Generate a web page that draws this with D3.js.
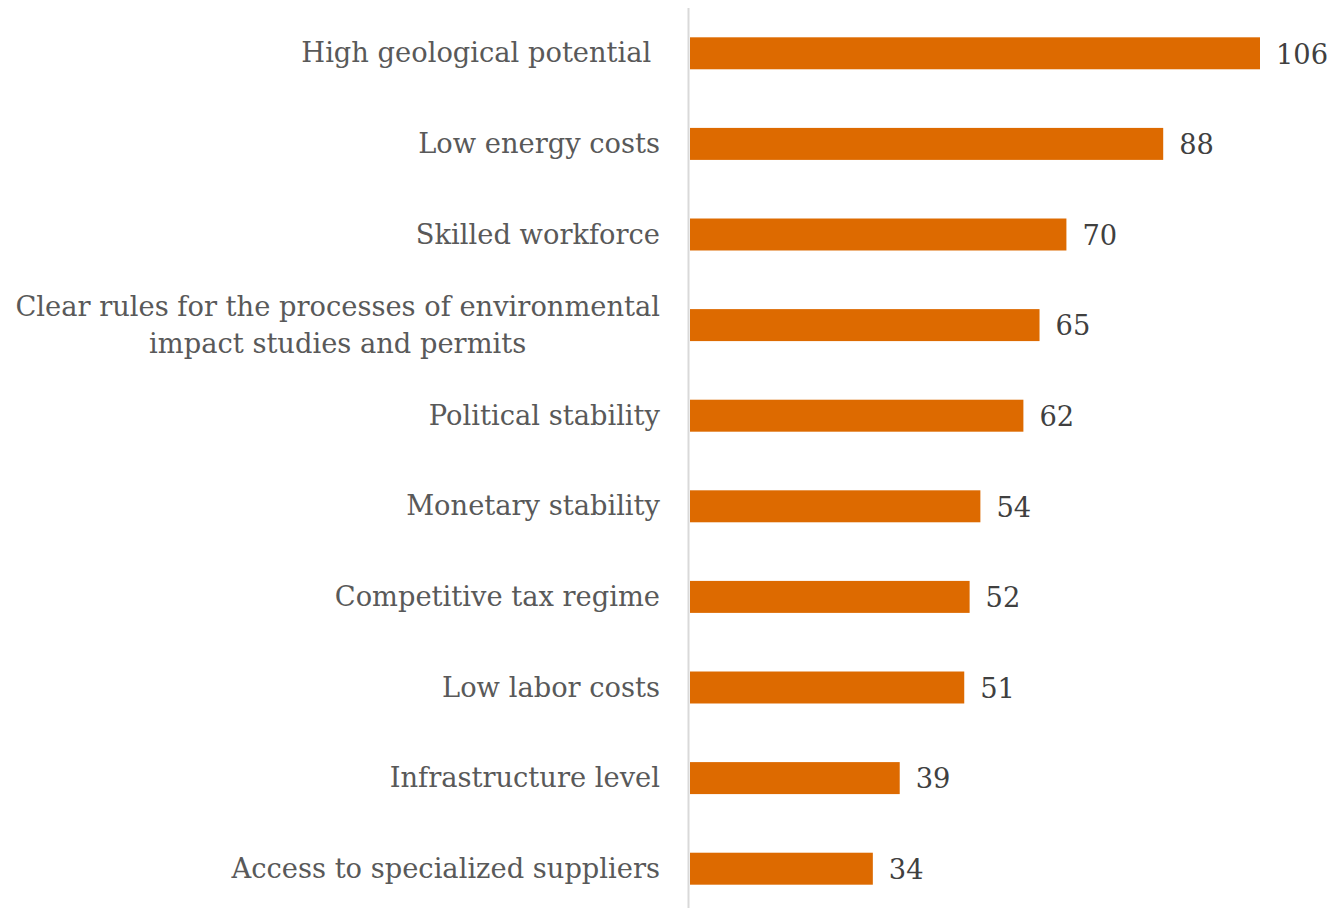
<!DOCTYPE html>
<html>
<head>
<meta charset="utf-8">
<script src="https://cdn.jsdelivr.net/npm/d3@7"></script>
<style>
  html, body { margin: 0; padding: 0; background: #fff; }
  svg { display: block; }
</style>
</head>
<body>
<svg id="chart" width="1332" height="908"></svg>
<script>
// Factors, top to bottom
const categories = [
  "High geological potential ",
  "Low energy costs",
  "Skilled workforce",
  "Clear rules for the processes of environmental\nimpact studies and permits",
  "Political stability",
  "Monetary stability",
  "Competitive tax regime",
  "Low labor costs",
  "Infrastructure level",
  "Access to specialized suppliers"
];
const counts = [106, 88, 70, 65, 62, 54, 52, 51, 39, 34];

const width = 1332, height = 908;
const margin = { top: 8, right: 72, bottom: 0, left: 690 };
const fontFamily = "'DejaVu Serif', 'Liberation Serif', serif";
const fontSize = 27.3;

const svg = d3.select("#chart");

const x = d3.scaleLinear()
  .domain([0, 106])
  .range([margin.left, 1260]);

const y = d3.scaleBand()
  .domain(categories)
  .range([margin.top, margin.top + 906])
  .paddingInner(0.647)
  .paddingOuter(0.3235);

// vertical category axis line
svg.append("line")
  .attr("x1", margin.left - 1.5).attr("x2", margin.left - 1.5)
  .attr("y1", 8).attr("y2", height)
  .attr("stroke", "#d9d9d9")
  .attr("stroke-width", 2);

// bars
svg.append("g")
  .selectAll("rect")
  .data(categories)
  .join("rect")
  .attr("x", x(0))
  .attr("y", d => y(d))
  .attr("width", (d, i) => x(counts[i]) - x(0))
  .attr("height", y.bandwidth())
  .attr("fill", "#dd6a00");

// value labels
svg.append("g")
  .selectAll("text")
  .data(categories)
  .join("text")
  .attr("x", (d, i) => x(counts[i]) + 16)
  .attr("y", d => y(d) + y.bandwidth() / 2)
  .attr("dy", "0.38em")
  .attr("font-family", fontFamily)
  .attr("font-size", fontSize)
  .attr("fill", "#404040")
  .text((d, i) => counts[i]);

// category labels, multi-line ones centred as a block ending at the right edge
const labelRight = 660;
const lineHeight = 37;
const labels = svg.append("g")
  .selectAll("text")
  .data(categories)
  .join("text")
  .attr("font-family", fontFamily)
  .attr("font-size", fontSize)
  .attr("fill", "#595959")
  .style("white-space", "pre");

labels.each(function(d) {
  const lines = d.split("\n");
  const t = d3.select(this);
  const cy = y(d) + y.bandwidth() / 2;
  const first = cy - (lines.length - 1) * lineHeight / 2;
  const spans = lines.map((ln, k) =>
    t.append("tspan")
      .attr("y", first + k * lineHeight)
      .attr("dy", "0.33em")
      .text(ln));
  if (lines.length === 1) {
    t.attr("text-anchor", "end");
    spans[0].attr("x", labelRight);
  } else {
    const maxW = d3.max(spans, s => s.node().getComputedTextLength());
    t.attr("text-anchor", "middle");
    spans.forEach(s => s.attr("x", labelRight - maxW / 2));
  }
});
</script>
</body>
</html>
